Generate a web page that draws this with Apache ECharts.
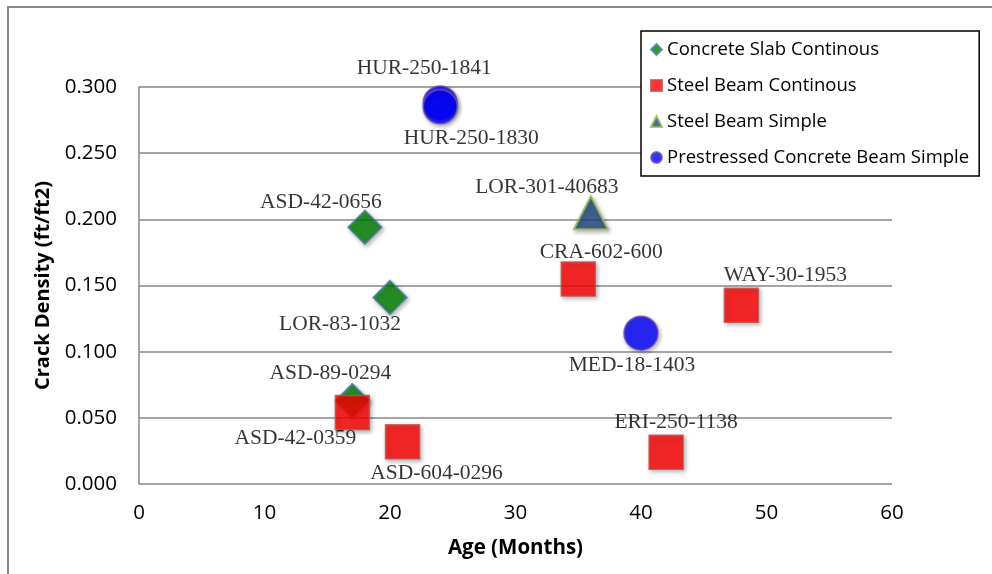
<!DOCTYPE html>
<html>
<head>
<meta charset="utf-8">
<script src="https://cdn.jsdelivr.net/npm/echarts@6/dist/echarts.min.js"></script>
<style>
html,body{margin:0;padding:0;background:#fff;}
#c{width:992px;height:574px;}
</style>
</head>
<body>
<div id="c"></div>
<script>
// ---- data ----
const seriesNames = ['Concrete Slab Continous', 'Steel Beam Continous', 'Steel Beam Simple', 'Prestressed Concrete Beam Simple'];

const slabAge = [18, 20, 17];
const slabDensity = [0.194, 0.141, 0.063];
const slabLabels = ['ASD-42-0656', 'LOR-83-1032', 'ASD-89-0294'];

const steelContAge = [17, 21, 35, 48, 42];
const steelContDensity = [0.054, 0.032, 0.155, 0.135, 0.024];
const steelContLabels = ['ASD-42-0359', 'ASD-604-0296', 'CRA-602-600', 'WAY-30-1953', 'ERI-250-1138'];

const steelSimpleAge = [36];
const steelSimpleDensity = [0.205];
const steelSimpleLabels = ['LOR-301-40683'];

const prestressedAge = [24, 24, 40];
const prestressedDensity = [0.288, 0.285, 0.114];
const prestressedLabels = ['HUR-250-1841', 'HUR-250-1830', 'MED-18-1403'];

const xTicks = [0, 10, 20, 30, 40, 50, 60];
const yTicks = [0, 0.05, 0.1, 0.15, 0.2, 0.25, 0.3];

// label placement (layout, pixels relative to marker centre)
const labelOffsets = {
  'ASD-42-0656': [-44, -25],
  'LOR-83-1032': [-50, 27],
  'ASD-89-0294': [-22, -27],
  'ASD-42-0359': [-57, 26],
  'ASD-604-0296': [34, 32],
  'CRA-602-600': [23, -27],
  'WAY-30-1953': [44, -30],
  'ERI-250-1138': [10, -30],
  'LOR-301-40683': [-44, -25],
  'HUR-250-1841': [-16, -35],
  'HUR-250-1830': [31, 32],
  'MED-18-1403': [-9, 32]
};

function build(ages, dens, labels) {
  return ages.map((a, i) => ({
    value: [a, dens[i]],
    name: labels[i],
    label: { offset: labelOffsets[labels[i]] }
  }));
}

const labelStyle = {
  show: true,
  position: 'inside',
  formatter: p => p.name,
  fontFamily: '"Liberation Serif", "Times New Roman", serif',
  fontSize: 21.5,
  color: '#000',
  textBorderWidth: 0,
  align: 'center',
  verticalAlign: 'middle'
};
const shadow = { shadowBlur: 4, shadowColor: 'rgba(0,0,0,0.35)', shadowOffsetX: 1.5, shadowOffsetY: 2 };
const sans = '"Open Sans", "Liberation Sans", sans-serif';

const chart = echarts.init(document.getElementById('c'), null, { renderer: 'canvas' });
chart.setOption({
  animation: false,
  backgroundColor: '#fff',
  graphic: [{
    type: 'rect',
    shape: { x: 8, y: 7, width: 1000, height: 600 },
    style: { fill: 'none', stroke: '#878787', lineWidth: 2 },
    silent: true,
    z: -1
  }],
  grid: { left: 139, right: 100, top: 87, bottom: 90 },
  legend: {
    orient: 'vertical',
    left: 641,
    top: 31,
    data: seriesNames,
    backgroundColor: '#fff',
    borderColor: '#000',
    borderWidth: 1.5,
    padding: [6, 10, 6, 9],
    itemGap: 11,
    itemWidth: 11,
    itemHeight: 11,
    textStyle: { fontFamily: sans, fontSize: 18.5, color: '#000', lineHeight: 25 },
    z: 10
  },
  xAxis: {
    type: 'value',
    min: 0, max: 60, interval: 10,
    name: 'Age (Months)',
    nameLocation: 'middle',
    nameGap: 54,
    nameTextStyle: { fontFamily: sans, fontSize: 20.5, fontWeight: 'bold', color: '#000' },
    axisLine: { show: false },
    axisTick: { show: false },
    splitLine: { show: false },
    axisLabel: { fontFamily: sans, fontSize: 20.5, color: '#000', margin: 19,
      formatter: v => xTicks.includes(v) ? String(v) : '' }
  },
  yAxis: {
    type: 'value',
    min: 0, max: 0.3, interval: 0.05,
    name: 'Crack Density (ft/ft2)',
    nameLocation: 'middle',
    nameGap: 86,
    nameTextStyle: { fontFamily: sans, fontSize: 20, fontWeight: 'bold', color: '#000' },
    axisLine: { show: true, lineStyle: { color: '#878787', width: 1.5 } },
    axisTick: { show: false },
    splitLine: { show: true, lineStyle: { color: '#878787', width: 1.5 } },
    axisLabel: { fontFamily: sans, fontSize: 20.5, color: '#000', margin: 22,
      formatter: v => yTicks.some(t => Math.abs(t - v) < 1e-9) ? v.toFixed(3) : '' }
  },
  series: [
    {
      name: seriesNames[0], type: 'scatter', symbol: 'diamond', symbolSize: [34, 34],
      itemStyle: Object.assign({ color: '#008000', borderColor: '#4F81BD', borderWidth: 1.5 }, shadow),
      label: labelStyle,
      data: build(slabAge, slabDensity, slabLabels)
    },
    {
      name: seriesNames[1], type: 'scatter', symbol: 'rect', symbolSize: [34, 34],
      itemStyle: Object.assign({ color: '#FF0000', borderColor: '#C0504D', borderWidth: 1.5 }, shadow),
      label: labelStyle,
      data: build(steelContAge, steelContDensity, steelContLabels)
    },
    {
      name: seriesNames[2], type: 'scatter', symbol: 'triangle', symbolSize: [34, 33],
      itemStyle: Object.assign({ color: '#1F497D', borderColor: '#9BBB59', borderWidth: 2 }, shadow),
      label: labelStyle,
      data: build(steelSimpleAge, steelSimpleDensity, steelSimpleLabels)
    },
    {
      name: seriesNames[3], type: 'scatter', symbol: 'circle', symbolSize: 34,
      itemStyle: Object.assign({ color: '#0000FF', borderColor: '#7054B0', borderWidth: 1.5 }, shadow),
      label: labelStyle,
      data: build(prestressedAge, prestressedDensity, prestressedLabels)
    }
  ]
});
</script>
</body>
</html>
